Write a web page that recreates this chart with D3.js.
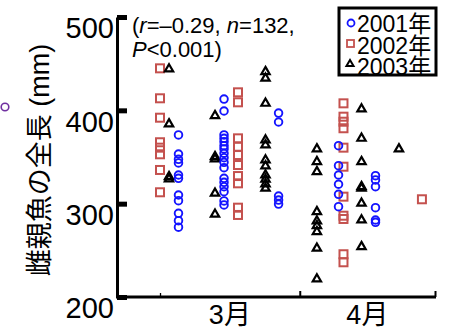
<!DOCTYPE html>
<html>
<head>
<meta charset="utf-8">
<script src="https://cdn.jsdelivr.net/npm/d3@7"></script>
<style>
  body { margin: 0; background: #fff; }
  svg { display: block; }
  text { font-family: "Liberation Sans", Arial, "Noto Sans CJK JP", sans-serif; }
</style>
</head>
<body>
<div id="chart"></div>
<script>
// days counted from 1 March, lengths in mm
const yTicks = [200, 300, 400, 500];
const monthStarts = [0, 31, 61];
const monthLabels = ["3月", "4月"];
const legendLabels = ["2001年", "2002年", "2003年"];

const days2001 = [4.1, 14.2, 26.3, 39.6, 47.8];
const lengths2001 = [
  [373.6, 353.2, 347.5, 343.6, 330.7, 327.2, 309.3, 303.2, 289.7, 281.8, 274.8],
  [412.1, 399.3, 373.6, 370.0, 366.4, 362.1, 358.6, 354.0, 349.3, 344.3, 338.5, 327.2, 322.9, 318.2, 312.8, 302.9, 298.6],
  [397.1, 387.5, 308.2, 303.9, 299.6],
  [362.1, 340.7, 330.7, 320.8, 310.0, 296.8],
  [330.0, 325.4, 318.2, 295.7, 282.5, 280.0]
];

const days2002 = [0, 17.3, 40.7, 58.1];
const lengths2002 = [
  [445.0, 412.9, 392.1, 365.8, 360.0, 352.9, 336.1, 312.2],
  [419.3, 408.6, 370.0, 361.0, 352.1, 341.4, 329.6, 321.8, 295.7, 287.9],
  [407.5, 393.2, 387.8, 380.8, 360.0, 339.6, 307.5, 287.1, 283.6, 245.8, 237.2],
  [304.7]
];

const days2003 = [2.0, 12.2, 23.4, 34.8, 44.7, 53.0];
const lengths2003 = [
  [444.3, 385.4, 328.9, 326.4],
  [394.3, 350.3, 347.9, 311.1, 288.6],
  [441.4, 434.3, 407.5, 368.2, 362.9, 346.8, 340.4, 330.7, 326.1, 321.1, 316.5],
  [358.6, 345.0, 334.3, 291.4, 281.4, 276.4, 270.0, 252.2, 219.3],
  [401.4, 370.0, 345.0, 318.2, 316.5, 300.4, 282.5, 253.9],
  [358.6]
];

function flatten(days, lengths) {
  let out = [];
  days.forEach((d, i) => lengths[i].forEach(v => out.push({ day: d, len: v })));
  return out;
}

const width = 450, height = 329;
const blue = "#1414ff", red = "#c4514e";

const svg = d3.select("#chart").append("svg")
  .attr("width", width)
  .attr("height", height);

let x = d3.scaleLinear().domain([-9.54, 61]).range([117, 435]);
let y = d3.scaleLinear().domain([200, 500]).range([297, 17]);

// y axis
let yAxis = d3.axisLeft(y)
  .tickValues(yTicks)
  .tickSize(-10)
  .tickSizeOuter(0)
  .tickPadding(3);

let gy = svg.append("g")
  .attr("transform", "translate(" + x.range()[0] + ",0)")
  .call(yAxis);
gy.select(".domain").attr("stroke", "#000").attr("stroke-width", 3);
gy.selectAll(".tick line").attr("stroke", "#000").attr("stroke-width", 5);
gy.selectAll(".tick text")
  .attr("font-size", 29)
  .attr("fill", "#000")
  .attr("dy", "0.72em");

// x axis
let xAxis = d3.axisBottom(x)
  .tickValues(monthStarts)
  .tickSize(-6)
  .tickSizeOuter(0)
  .tickFormat("");

let gx = svg.append("g")
  .attr("transform", "translate(0," + y(200) + ")")
  .call(xAxis);
gx.select(".domain").attr("stroke", "#000").attr("stroke-width", 3)
  .attr("d", "M" + (x.range()[0] - 1) + ",0H" + (x.range()[1] + 1));
gx.selectAll(".tick line")
  .attr("stroke", "#000")
  .attr("stroke-width", (d, i) => i == 0 ? 1.3 : 2)
  .attr("y2", (d, i) => i == 0 ? -4 : -6);

svg.selectAll(".month")
  .data(monthLabels)
  .enter().append("text")
  .attr("class", "month")
  .attr("x", (d, i) => (x(monthStarts[i]) + x(monthStarts[i + 1])) / 2)
  .attr("y", 324)
  .attr("text-anchor", "middle")
  .attr("font-size", 27)
  .text(d => d);

// y label
svg.append("text")
  .attr("transform", "translate(40,160) rotate(-90)")
  .attr("text-anchor", "middle")
  .attr("dominant-baseline", "central")
  .attr("font-size", 27)
  .attr("font-family", "'Noto Sans CJK JP', sans-serif")
  .text("雌親魚の全長 (mm)");

// stray marker at the left edge
svg.append("circle")
  .attr("cx", 5).attr("cy", 107).attr("r", 3.8)
  .attr("fill", "none").attr("stroke", "#7030a0").attr("stroke-width", 1.6);

// annotation
let note = svg.append("text").attr("font-size", 22).attr("fill", "#000");
let l1 = note.append("tspan").attr("x", 132).attr("y", 33);
l1.append("tspan").text("(");
l1.append("tspan").attr("font-style", "italic").text("r");
l1.append("tspan").text("=–0.29, ");
l1.append("tspan").attr("font-style", "italic").text("n");
l1.append("tspan").text("=132,");
let l2 = note.append("tspan").attr("x", 132).attr("y", 57);
l2.append("tspan").attr("font-style", "italic").text("P");
l2.append("tspan").text("<0.001)");

// points
let tri = d3.symbol().type(d3.symbolTriangle).size(30);

svg.append("g").selectAll("rect")
  .data(flatten(days2002, lengths2002))
  .enter().append("rect")
  .attr("x", d => x(d.day) - 4)
  .attr("y", d => y(d.len) - 4)
  .attr("width", 8).attr("height", 8)
  .attr("fill", "none").attr("stroke", red).attr("stroke-width", 2);

svg.append("g").selectAll("path")
  .data(flatten(days2003, lengths2003))
  .enter().append("path")
  .attr("d", tri)
  .attr("transform", d => "translate(" + x(d.day) + "," + y(d.len) + ")")
  .attr("fill", "none").attr("stroke", "#000").attr("stroke-width", 2.2);

svg.append("g").selectAll("circle")
  .data(flatten(days2001, lengths2001))
  .enter().append("circle")
  .attr("cx", d => x(d.day))
  .attr("cy", d => y(d.len))
  .attr("r", 3.8)
  .attr("fill", "none").attr("stroke", blue).attr("stroke-width", 1.9);

// legend
let lg = svg.append("g");
lg.append("rect")
  .attr("x", 339).attr("y", 8).attr("width", 97).attr("height", 67)
  .attr("fill", "#fff").attr("stroke", "#000").attr("stroke-width", 3);

let clip = svg.append("clipPath").attr("id", "lgclip");
clip.append("rect").attr("x", 339).attr("y", 8).attr("width", 97).attr("height", 66);

lg.selectAll(".lgtext")
  .data(legendLabels)
  .enter().append("text")
  .attr("class", "lgtext")
  .attr("x", 357)
  .attr("y", (d, i) => 32 + i * 21.5)
  .attr("font-size", 23)
  .attr("clip-path", "url(#lgclip)")
  .text(d => d);

lg.append("circle").attr("cx", 351).attr("cy", 23).attr("r", 3.5)
  .attr("fill", "none").attr("stroke", blue).attr("stroke-width", 1.8);
lg.append("rect").attr("x", 347).attr("y", 40).attr("width", 7).attr("height", 7)
  .attr("fill", "none").attr("stroke", red).attr("stroke-width", 1.8);
lg.append("path").attr("d", d3.symbol().type(d3.symbolTriangle).size(22))
  .attr("transform", "translate(350,64)")
  .attr("fill", "none").attr("stroke", "#000").attr("stroke-width", 2);
</script>
</body>
</html>
